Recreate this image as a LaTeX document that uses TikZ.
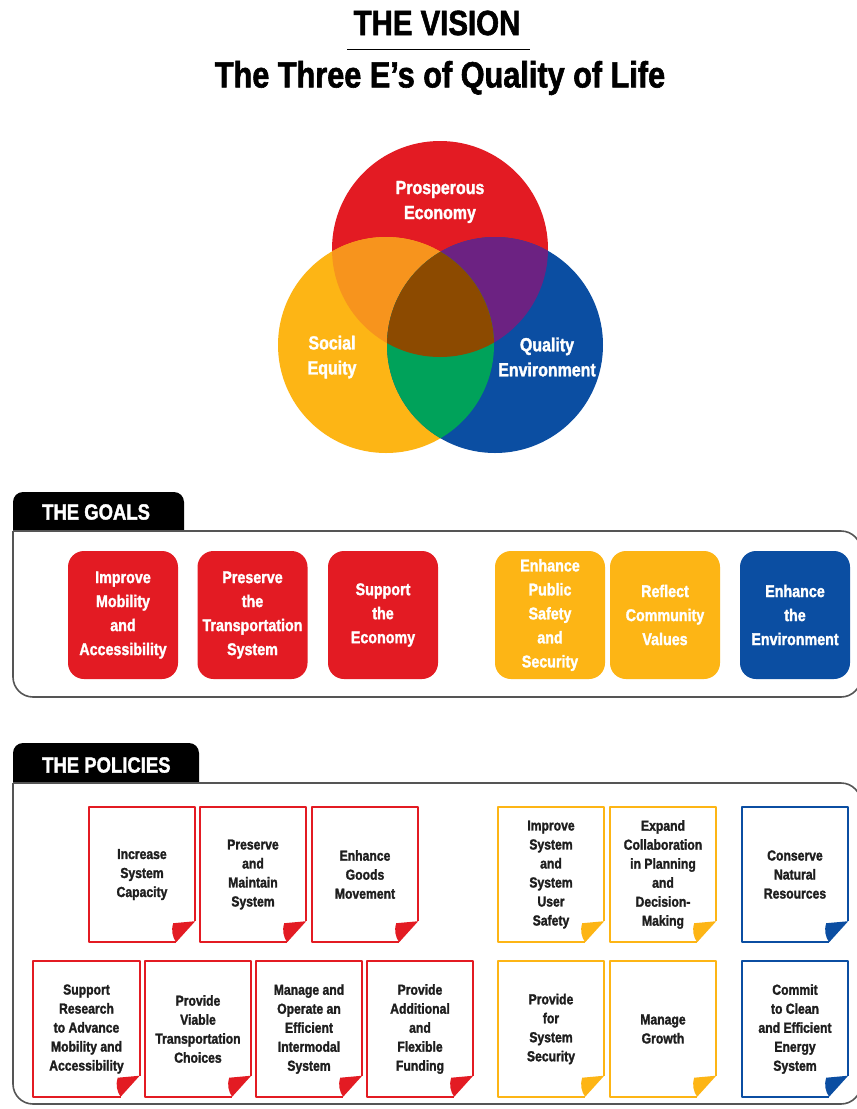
\documentclass[tikz,border=0pt]{standalone}
\usepackage{fontspec}
\setmainfont[FakeStretch=0.84,BoldFeatures={FakeBold=1.6}]{Liberation Sans}
\definecolor{vred}{HTML}{E31B23}
\definecolor{vyellow}{HTML}{FDB515}
\definecolor{vblue}{HTML}{0B4EA2}
\definecolor{vorange}{HTML}{F7941D}
\definecolor{vpurple}{HTML}{6C2282}
\definecolor{vgreen}{HTML}{00A25A}
\definecolor{vbrown}{HTML}{8C4A00}
\definecolor{framegray}{HTML}{555555}
\definecolor{doctext}{HTML}{1E1E1E}
\begin{document}
\begin{tikzpicture}[x=1pt,y=-1pt,
  frame/.style={draw=framegray,line width=1.6pt},
  goalbox/.style={rounded corners=16pt,minimum width=110pt,minimum height=128pt,inner sep=0pt,text=white,align=center,font=\bfseries\fontsize{17}{24}\selectfont},
  policydoc/.style={minimum width=106pt,minimum height=135pt,inner sep=0pt,text=doctext,align=center,font=\bfseries\fontsize{14.5}{19}\selectfont},
  venntext/.style={text=white,align=center,font=\bfseries\fontsize{19}{25}\selectfont},
  tabtext/.style={text=white,anchor=west,inner sep=0pt,font=\bfseries\fontsize{22}{22}\selectfont}]
\useasboundingbox[fill=white] (0,0) rectangle (857,1109);
% title
\node[font=\bfseries\fontsize{35}{35}\selectfont] (vision) at (437,23) {THE VISION};
\draw[line width=1pt] (347,49) -- (530,49);
\node[font=\bfseries\fontsize{36.5}{36.5}\selectfont] (subtitle) at (440,78) {The Three E’s of Quality of Life};
% venn diagram
\coordinate (eco) at (440,249);
\coordinate (soc) at (386,345);
\coordinate (env) at (495,345);
\fill[vred] (eco) circle [radius=108];
\fill[vyellow] (soc) circle [radius=108];
\fill[vblue] (env) circle [radius=108];
\begin{scope}
\clip (eco) circle [radius=108];
\fill[vorange] (soc) circle [radius=108];
\fill[vpurple] (env) circle [radius=108];
\end{scope}
\begin{scope}
\clip (soc) circle [radius=108];
\fill[vgreen] (env) circle [radius=108];
\clip (eco) circle [radius=108];
\fill[vbrown] (env) circle [radius=108];
\end{scope}
\node[venntext] (ecotext) at (440,202) {Prosperous\\Economy};
\node[venntext] (soctext) at (332,357) {Social\\Equity};
\node[venntext] (envtext) at (547,357) {Quality\\Environment};
% goals
\fill[black,rounded corners=10pt] (13,531) -- (13,492) -- (184,492) -- (184,531);
\node[tabtext] (goalstab) at (42,512) {THE GOALS};
\draw[frame,rounded corners=20pt] (13,531) -- (861,531) -- (861,697) -- (13,697) -- (13,531);
\foreach \nm/\cx/\col/\txt in {mob/123/vred/{Improve\\Mobility\\and\\Accessibility},
  pres/252.5/vred/{Preserve\\the\\Transportation\\System},
  econ/383/vred/{Support\\the\\Economy},
  safe/550/vyellow/{Enhance\\Public\\Safety\\and\\Security},
  comm/665/vyellow/{Reflect\\Community\\Values},
  envi/795/vblue/{Enhance\\the\\Environment}}{
\node[goalbox,fill=\col] (goal-\nm) at (\cx,615) {\txt};
}
% policies
\fill[black,rounded corners=10pt] (13,783) -- (13,743) -- (199,743) -- (199,783);
\node[tabtext] (policiestab) at (42,765) {THE POLICIES};
\draw[frame,rounded corners=20pt] (13,783) -- (861,783) -- (861,1104) -- (13,1104) -- (13,783);
\foreach \nm/\cx/\cy/\col/\txt in {cap/142/874.5/vred/{Increase\\System\\Capacity},
  maint/253/874.5/vred/{Preserve\\and\\Maintain\\System},
  goods/365/874.5/vred/{Enhance\\Goods\\Movement},
  usersafe/551/874.5/vyellow/{Improve\\System\\and\\System\\User\\Safety},
  collab/663/874.5/vyellow/{Expand\\Collaboration\\in Planning\\and\\Decision-\\Making},
  natres/795/874.5/vblue/{Conserve\\Natural\\Resources},
  research/86.5/1029/vred/{Support\\Research\\to Advance\\Mobility and\\Accessibility},
  choice/198/1029/vred/{Provide\\Viable\\Transportation\\Choices},
  operate/309/1029/vred/{Manage and\\Operate an\\Efficient\\Intermodal\\System},
  funding/420/1029/vred/{Provide\\Additional\\and\\Flexible\\Funding},
  security/551/1029/vyellow/{Provide\\for\\System\\Security},
  growth/663/1029/vyellow/{Manage\\Growth},
  energy/795/1029/vblue/{Commit\\to Clean\\and Efficient\\Energy\\System}}{
\node[policydoc] (pol-\nm) at (\cx,\cy) {\txt};
\draw[color=\col,line width=2pt,line join=round] ([yshift=21pt]pol-\nm.south east) -- (pol-\nm.north east) -- (pol-\nm.north west) -- (pol-\nm.south west) -- ([xshift=-19pt]pol-\nm.south east);
\fill[color=\col] ([yshift=21pt]pol-\nm.south east) -- ([xshift=-19pt]pol-\nm.south east) to[bend left=25] ([xshift=-22pt,yshift=19pt]pol-\nm.south east) -- cycle;
}
\end{tikzpicture}
\end{document}
